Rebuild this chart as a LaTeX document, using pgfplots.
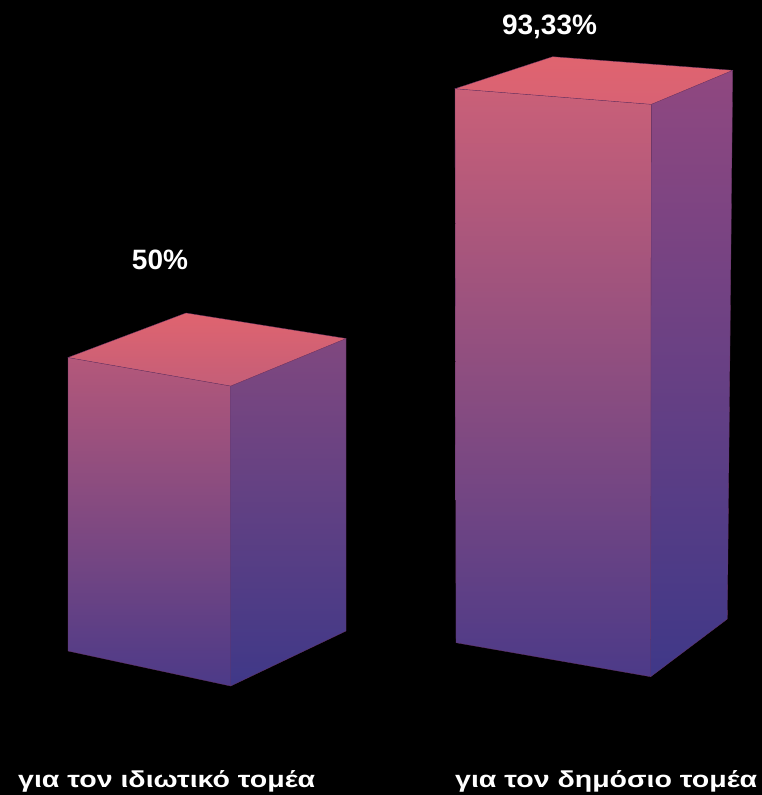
\documentclass[border=0pt]{standalone}
\usepackage{fontspec}
\setmainfont{Liberation Sans}
\usepackage{graphicx}
\usepackage{pgfplots}
\pgfplotsset{compat=1.18}
\definecolor{topA}{HTML}{E0646F}
\definecolor{topB1}{HTML}{C45E78}
\definecolor{topB2}{HTML}{D86274}
\definecolor{frontT1}{HTML}{B4587A}
\definecolor{frontT2}{HTML}{CA6078}
\definecolor{frontB}{HTML}{4C3A88}
\definecolor{sideT1}{HTML}{80487F}
\definecolor{sideT2}{HTML}{904880}
\definecolor{sideB}{HTML}{3F3888}
\definecolor{edge}{HTML}{6A3468}
\begin{document}
\begin{tikzpicture}
\begin{axis}[
  scale only axis, width=762bp, height=795bp,
  xmin=0, xmax=762, ymin=0, ymax=795, y dir=reverse,
  axis lines=none, xtick=\empty, ytick=\empty,
  axis background/.style={fill=black},
  clip=false,
]
% ---- bar 1: "για τον ιδιωτικό τομέα" = 50 %
% front face
\addplot[draw=edge, line width=0.3bp, top color=frontT1, bottom color=frontB]
  coordinates {(68,357.5) (230.7,386) (230.7,686) (68,651)} -- cycle;
% side face
\addplot[draw=edge, line width=0.3bp, top color=sideT1, bottom color=sideB]
  coordinates {(230.7,386) (346,338.5) (346,631) (230.7,686)} -- cycle;
% top face
\addplot[draw=edge, line width=0.3bp, top color=topA, bottom color=topB1]
  coordinates {(68,357.5) (186,313) (346,338.5) (230.7,386)} -- cycle;
% ---- bar 2: "για τον δημόσιο τομέα" = 93.33 %
\addplot[draw=edge, line width=0.3bp, top color=frontT2, bottom color=frontB]
  coordinates {(455,88.7) (651.3,104.3) (650.7,676.7) (456,642.7)} -- cycle;
\addplot[draw=edge, line width=0.3bp, top color=sideT2, bottom color=sideB]
  coordinates {(651.3,104.3) (732.7,70.3) (727.3,619) (650.7,676.7)} -- cycle;
\addplot[draw=edge, line width=0.3bp, top color=topA, bottom color=topB2]
  coordinates {(455,88.7) (552.7,56.7) (732.7,70.3) (651.3,104.3)} -- cycle;
% value labels
\node[anchor=base, text=white, font=\fontsize{28bp}{32bp}\selectfont\bfseries]
  at (axis cs:160,269) {50\%};
\node[anchor=base, text=white, font=\fontsize{28bp}{32bp}\selectfont\bfseries]
  at (axis cs:549.5,34.3) {93,33\%};
% category labels
\node[anchor=base west, inner sep=0pt, text=white, font=\fontsize{23bp}{27bp}\selectfont\bfseries]
  at (axis cs:18,787) {\scalebox{1.24}[1]{για τον ιδιωτικό τομέα}};
\node[anchor=base west, inner sep=0pt, text=white, font=\fontsize{23bp}{27bp}\selectfont\bfseries]
  at (axis cs:455,787) {\scalebox{1.24}[1]{για τον δημόσιο τομέα}};
\end{axis}
\pgfresetboundingbox
\useasboundingbox (current axis.south west) rectangle (current axis.north east);
\end{tikzpicture}
\end{document}
